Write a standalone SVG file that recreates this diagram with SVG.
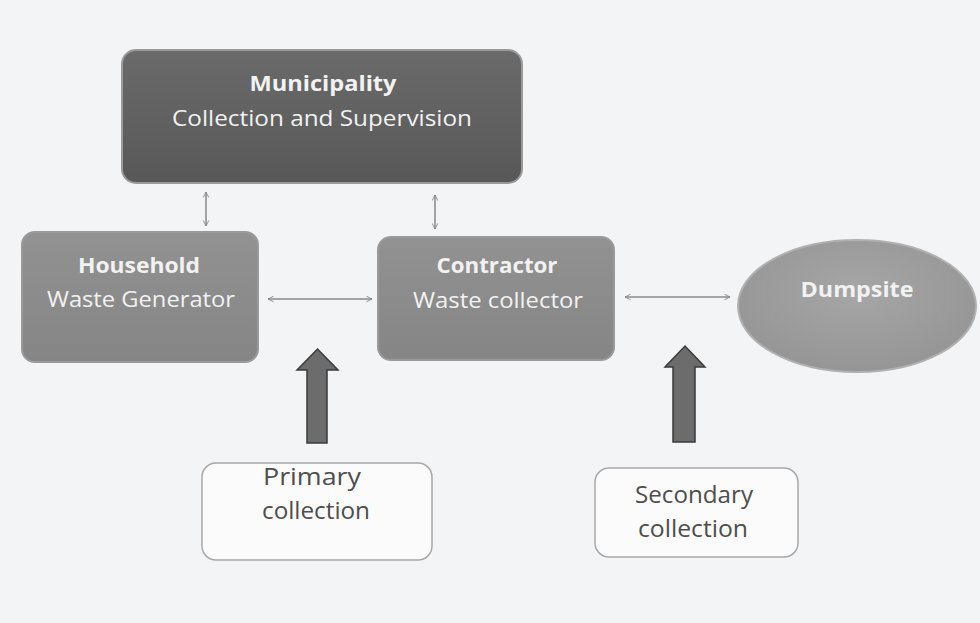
<svg xmlns="http://www.w3.org/2000/svg" width="980" height="623" viewBox="0 0 980 623">
<defs>
<style>
.t{font-family:"Open Sans","Liberation Sans",sans-serif;text-anchor:middle;fill:#f2f2f2}
.b{font-weight:bold}
.d{font-family:"Open Sans","Liberation Sans",sans-serif;text-anchor:middle;fill:#4e4e4e;font-size:23px}
.box{stroke:#9a9a9a;stroke-width:2}
.conn{stroke:#8a8a8a;stroke-width:1.5;fill:none;marker-start:url(#ah);marker-end:url(#ah)}
.blk{fill:#6c6c6c;stroke:#3a3a3a;stroke-width:1.5}
.lbl{fill:#fbfbfb;stroke:#a8a8a8;stroke-width:1.5}
</style>
<marker id="ah" viewBox="0 0 10 10" refX="9" refY="5" markerWidth="7" markerHeight="7" orient="auto-start-reverse" markerUnits="userSpaceOnUse">
<path d="M1,1 L9,5 L1,9" fill="none" stroke="#8a8a8a" stroke-width="1.3"/>
</marker>
<linearGradient id="gm" x1="0" y1="0" x2="0" y2="1"><stop offset="0" stop-color="#6a6a6a"/><stop offset="1" stop-color="#585858"/></linearGradient>
<linearGradient id="gl" x1="0" y1="0" x2="0" y2="1"><stop offset="0" stop-color="#929292"/><stop offset="1" stop-color="#858585"/></linearGradient>
<radialGradient id="ge" cx="0.5" cy="0.4" r="0.6"><stop offset="0" stop-color="#a6a6a6"/><stop offset="1" stop-color="#959595"/></radialGradient>
</defs>
<rect width="980" height="623" fill="#f3f4f6"/>
<g id="municipality">
<rect class="box" x="122" y="50" width="400" height="133" rx="14" fill="url(#gm)" stroke="#8c8c8c"/>
<text class="t b" x="323" y="91" font-size="22" textLength="147" lengthAdjust="spacingAndGlyphs">Municipality</text>
<text class="t" x="322" y="126" font-size="22" textLength="300" lengthAdjust="spacingAndGlyphs">Collection and Supervision</text>
</g>
<g id="household">
<rect class="box" x="22" y="232" width="236" height="130" rx="13" fill="url(#gl)"/>
<text class="t b" x="139" y="273" font-size="22" textLength="122" lengthAdjust="spacingAndGlyphs">Household</text>
<text class="t" x="141" y="307" font-size="22" textLength="188" lengthAdjust="spacingAndGlyphs">Waste Generator</text>
</g>
<g id="contractor">
<rect class="box" x="378" y="237" width="236" height="123" rx="13" fill="url(#gl)"/>
<text class="t b" x="497" y="273" font-size="22" textLength="121" lengthAdjust="spacingAndGlyphs">Contractor</text>
<text class="t" x="498" y="308" font-size="22" textLength="170" lengthAdjust="spacingAndGlyphs">Waste collector</text>
</g>
<g id="dumpsite">
<ellipse cx="857" cy="306" rx="119" ry="66" fill="url(#ge)" stroke="#b0b0b0" stroke-width="2"/>
<text class="t b" x="857" y="297" font-size="22" textLength="113" lengthAdjust="spacingAndGlyphs">Dumpsite</text>
</g>
<g id="primary">
<rect class="lbl" x="202" y="463" width="230" height="97" rx="14"/>
<text class="d" x="312" y="485" textLength="98" lengthAdjust="spacingAndGlyphs">Primary</text>
<text class="d" x="316" y="519" textLength="108" lengthAdjust="spacingAndGlyphs">collection</text>
</g>
<g id="secondary">
<rect class="lbl" x="595" y="468" width="203" height="89" rx="14"/>
<text class="d" x="694" y="503" textLength="118" lengthAdjust="spacingAndGlyphs">Secondary</text>
<text class="d" x="693" y="537" textLength="110" lengthAdjust="spacingAndGlyphs">collection</text>
</g>
<g id="connectors">
<line class="conn" x1="206" y1="192" x2="206" y2="226"/>
<line class="conn" x1="435" y1="195" x2="435" y2="229"/>
<line class="conn" x1="268" y1="299" x2="372" y2="299"/>
<line class="conn" x1="625" y1="297" x2="730" y2="297"/>
<path class="blk" d="M307,443 L307,370 L297,370 L317.5,349 L338,370 L327,370 L327,443 Z"/>
<path class="blk" d="M673,442 L673,367 L665,367 L685,346 L705,367 L695,367 L695,442 Z"/>
</g>
</svg>
